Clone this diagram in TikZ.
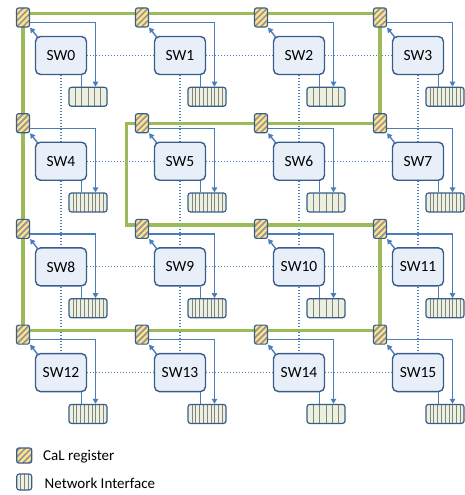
\documentclass[tikz,border=0pt]{standalone}
\usepackage{fontspec}
\setmainfont{Carlito}
\usetikzlibrary{arrows.meta,backgrounds,calc}
\definecolor{bord}{RGB}{56,93,138}
\definecolor{swfill}{RGB}{233,239,248}
\definecolor{blueln}{RGB}{74,126,187}
\definecolor{grn}{RGB}{155,187,89}
\definecolor{regfill}{RGB}{255,226,140}
\definecolor{hatchc}{RGB}{150,150,150}
\definecolor{nifill}{RGB}{235,241,222}
\definecolor{nistripe}{RGB}{130,130,130}
\begin{document}
\begin{tikzpicture}[x=1pt,y=-1pt,
  swbox/.style={draw=bord,fill=swfill,line width=1.4pt,rounded corners=5pt,
    minimum width=51pt,minimum height=38pt,inner sep=0pt,
    font=\fontsize{15.5}{18}\selectfont},
  regbox/.style={draw=bord,fill=regfill,line width=1.1pt,rounded corners=2pt,
    minimum width=13pt,minimum height=19pt,inner sep=0pt,
    path picture={\foreach \k in {-24,-18,...,18}{
      \draw[hatchc,line width=1.7pt] ([xshift=\k pt]path picture bounding box.south west) -- ++(26pt,26pt);}}},
  nibox/.style={draw=bord,fill=nifill,line width=1.2pt,rounded corners=2.5pt,
    minimum width=38pt,minimum height=19pt,inner sep=0pt,
    path picture={\foreach \i in {1,...,#1}{
      \draw[nistripe,line width=0.6pt] ([xshift={\i*38pt/(#1+1)}]path picture bounding box.south west) -- ++(0pt,20pt);}}},
  niicon/.style={draw=bord,fill=nifill,line width=1.1pt,rounded corners=2.5pt,
    minimum width=15pt,minimum height=16pt,inner sep=0pt,
    path picture={\foreach \i in {1,2,3}{
      \draw[nistripe,line width=0.6pt] ([xshift={\i*15pt/4}]path picture bounding box.south west) -- ++(0pt,17pt);}}},
  dotb/.style={blueln,line width=1.1pt,dash pattern=on 1pt off 2pt},
  grline/.style={grn,line width=3.2pt,line join=miter},
  arr/.style={blueln,line width=1.4pt,-{Triangle[length=5pt,width=5.5pt]}},
  bln/.style={blueln,line width=1.4pt},
  legtext/.style={anchor=west,inner sep=0pt,font=\fontsize{15}{18}\selectfont}
]
\useasboundingbox (0,0) rectangle (464,495);
\foreach \r in {0,...,3}{
  \foreach \c in {0,...,3}{
    \pgfmathtruncatemacro\n{4*\r+\c}
    \pgfmathsetmacro\rx{23+119*\c}
    \pgfmathsetmacro\ry{17.5+105.7*\r}
    \pgfmathtruncatemacro\ns{(\n==0||\n==2||\n==6||\n==10||\n==14)?5:9}
    \node[regbox] (r\r\c) at (\rx,\ry) {};
    \node[swbox] (sw\n) at (\rx+38,\ry+38) {SW\n};
    \node[nibox=\ns] (ni\n) at (\rx+65,\ry+79.3) {};
    \draw[arr] ([xshift=3pt,yshift=-1.5pt]sw\n.north west) -- (r\r\c.south east);
    \draw[arr] ([yshift=-5pt]r\r\c.east) -| ([xshift=7.5pt]ni\n.north);
    \draw[bln] ([xshift=-6.5pt]ni\n.north) -- ([xshift=-6.5pt]ni\n.north |- sw\n.south);
  }
}
\begin{pgfonlayer}{background}
  \foreach \r in {0,...,3}{
    \foreach \c in {0,1,2}{
      \pgfmathtruncatemacro\n{4*\r+\c}
      \pgfmathtruncatemacro\m{\n+1}
      \draw[dotb] (sw\n.east) -- (sw\m.west);
    }
  }
  \foreach \r in {0,1,2}{
    \foreach \c in {0,...,3}{
      \pgfmathtruncatemacro\n{4*\r+\c}
      \pgfmathtruncatemacro\m{\n+4}
      \draw[dotb] (sw\n.south) -- (sw\m.north);
    }
  }
  \draw[grline] ([yshift=4pt]r00.center) -- ([yshift=4pt]r03.center) -- (r13.center)
    -- ([xshift=-15.7pt]r11.center) -- ([xshift=-15.7pt,yshift=4pt]r21.center)
    -- ([yshift=4pt]r23.center) -- ([yshift=4pt]r33.center)
    -- ([yshift=4pt]r30.center) -- cycle;
\end{pgfonlayer}
\node[regbox,minimum width=15pt,minimum height=15pt] (lreg) at (24.2,455.5) {};
\node[niicon] (lni) at (24.2,482) {};
\node[legtext] (lt1) at (43,457) {CaL register};
\node[legtext] (lt2) at (44.5,483.5) {Network Interface};
\end{tikzpicture}
\end{document}
